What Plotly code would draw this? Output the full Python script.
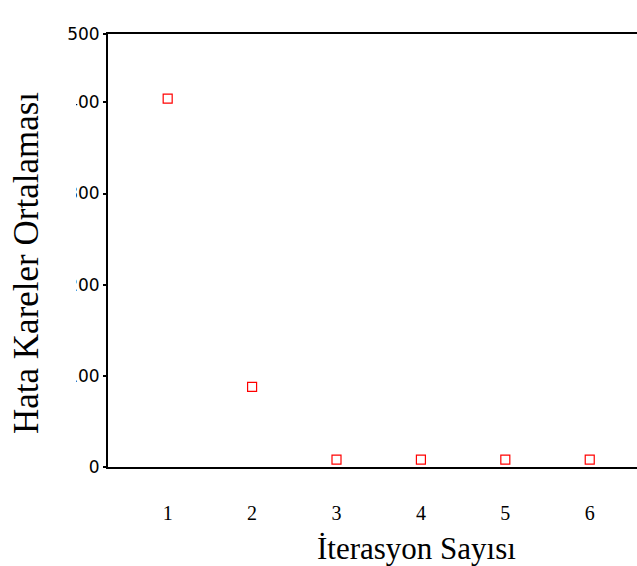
import plotly.graph_objects as go

iterations = [1, 2, 3, 4, 5, 6]
mse = [404, 88, 8, 8, 8, 8]
y_tickvals = [0, 100, 200, 300, 400, 475]
y_ticktext = ["0", "100", "200", "300", "400", "500"]

L, R, T, B, W, H = 108, 0, 34, 99, 637, 566
pw, ph = W - L - R, H - T - B

def px_x(p):
    return (p - L) / pw

def px_y(p):
    return (H - B - p) / ph

fig = go.Figure()
fig.add_trace(go.Scatter(
    x=iterations, y=mse, mode="markers",
    marker=dict(symbol="square-open", size=9, color="#ff0000", line=dict(width=1.2, color="#ff0000")),
    showlegend=False, cliponaxis=False,
))

# white panel behind the y-axis title that hides the left part of the tick labels
fig.add_shape(type="rect", xref="paper", yref="paper",
              x0=px_x(0), x1=px_x(76), y0=px_y(445), y1=px_y(80),
              fillcolor="white", line=dict(width=0), layer="above")

fig.update_layout(
    width=W, height=H,
    margin=dict(l=L, r=R, t=T, b=B),
    paper_bgcolor="white", plot_bgcolor="white",
    xaxis=dict(
        range=[0.293, 6.56], tickvals=iterations, ticktext=[str(v) for v in iterations],
        showgrid=False, zeroline=False, showline=True, linecolor="black", linewidth=2,
        mirror=True, ticks="", ticklabelstandoff=27,
        tickfont=dict(family="Liberation Serif", size=20, color="black"),
    ),
    yaxis=dict(
        range=[0, 475], tickvals=y_tickvals, ticktext=y_ticktext,
        showgrid=False, zeroline=False, showline=True, linecolor="black", linewidth=2,
        ticks="outside", ticklen=3, tickwidth=2, tickcolor="black",
        tickfont=dict(family="DejaVu Sans", size=17, color="black"),
    ),
    annotations=[
        dict(text="Hata Kareler Ortalaması", textangle=-90, showarrow=False,
             xref="paper", yref="paper", x=px_x(26), y=px_y(263),
             xanchor="center", yanchor="middle",
             font=dict(family="Liberation Serif", size=35, color="black")),
        dict(text="İterasyon Sayısı", showarrow=False,
             xref="paper", yref="paper", x=px_x(416), y=px_y(548),
             xanchor="center", yanchor="middle",
             font=dict(family="Liberation Serif", size=31, color="black")),
    ],
)

fig.write_html("out.html")
